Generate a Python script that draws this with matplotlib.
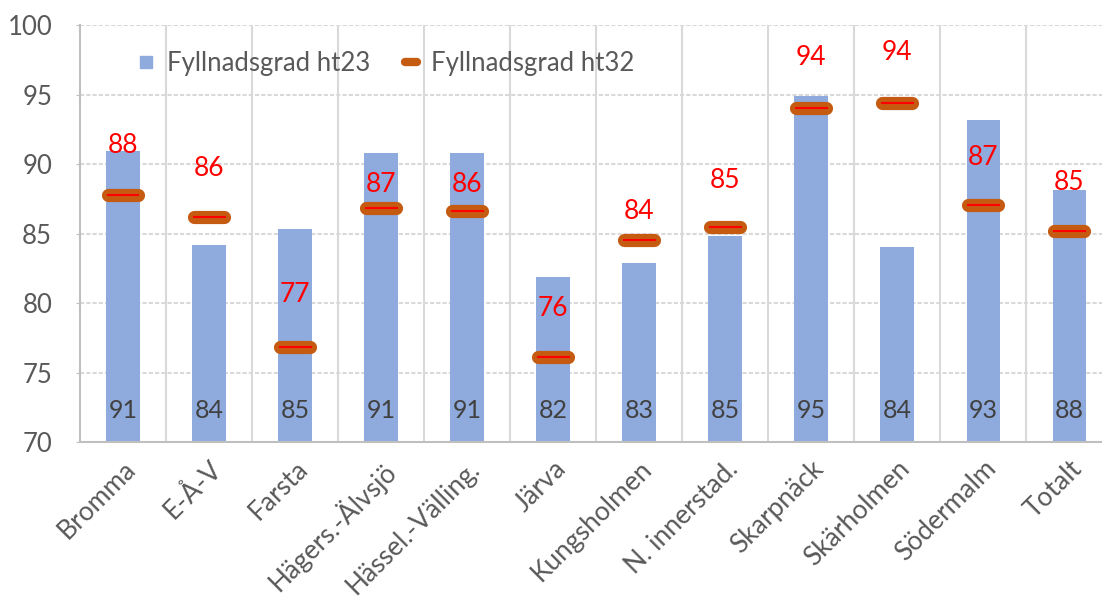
import matplotlib.pyplot as plt
from matplotlib.lines import Line2D
from matplotlib.markers import MarkerStyle

# data
areas = ['Bromma', 'E-Å-V', 'Farsta', 'Hägers.-Älvsjö', 'Hässel.-Välling.', 'Järva',
         'Kungsholmen', 'N. innerstad.', 'Skarpnäck', 'Skärholmen', 'Södermalm', 'Totalt']
ht23 = [90.9, 84.2, 85.3, 90.8, 90.8, 81.9, 82.9, 84.8, 94.9, 84.0, 93.2, 88.1]
ht23_labels = [91, 84, 85, 91, 91, 82, 83, 85, 95, 84, 93, 88]
ht32 = [87.8, 86.2, 76.8, 86.8, 86.6, 76.1, 84.5, 85.5, 94.0, 94.4, 87.05, 85.2]
ht32_labels = [88, 86, 77, 87, 86, 76, 84, 85, 94, 94, 87, 85]
# label offsets above the marker (points), placed by hand in the original
label_offsets = [35, 35, 38, 17, 19, 35, 21, 33, 37, 36, 34, 35]

bar_color = '#8FAADC'
marker_color = '#C55A11'
text_gray = '#595959'
grid_gray = '#D9D9D9'

plt.rcParams['font.family'] = ['Lato', 'DejaVu Sans']

fig = plt.figure(figsize=(11.02, 6.01), dpi=100)
ax = fig.add_axes([80 / 1102, 1 - 442 / 601, 1 - 80 / 1102, (442 - 25) / 601])

x = list(range(len(areas)))
ax.bar(x, [v - 70 for v in ht23], bottom=70, width=0.39, color=bar_color, zorder=2)

for i in x:
  ax.plot([i - 0.175, i + 0.175], [ht32[i]] * 2, color=marker_color, lw=9.5,
          solid_capstyle='round', zorder=3)
  ax.plot([i - 0.18, i + 0.18], [ht32[i]] * 2, color='#FF0000', lw=1.5, zorder=4)
  ax.annotate(str(ht32_labels[i]), (i, ht32[i]), xytext=(0, label_offsets[i]),
              textcoords='offset points', ha='center', va='center',
              color='#FF0000', fontsize=19, zorder=5)
  ax.text(i, 72.3, str(ht23_labels[i]), ha='center', va='center',
          color='#404040', fontsize=18, zorder=5)

ax.set_xlim(-0.5, 11.38)
ax.set_ylim(70, 100)
ax.set_yticks(range(70, 101, 5))
ax.set_xticks(x)
ax.set_xticklabels(areas, rotation=45, ha='right', rotation_mode='anchor',
                   fontsize=19, color=text_gray)
ax.tick_params(axis='x', length=0, pad=10)
ax.tick_params(axis='y', length=3, color='#BFBFBF', labelsize=18.5,
               labelcolor=text_gray, pad=17)

# grid: dashed horizontal, solid vertical between categories
for y in range(75, 101, 5):
  ax.axhline(y, color=grid_gray, lw=1.5, ls=(0, (2, 1)), zorder=1)
for k in range(len(areas)):
  ax.axvline(k + 0.5, color=grid_gray, lw=1.5, zorder=1)

for side in ['top', 'right']:
  ax.spines[side].set_visible(False)
for side in ['left', 'bottom']:
  ax.spines[side].set_color('#BFBFBF')
  ax.spines[side].set_linewidth(1.5)

handles = [Line2D([], [], ls='none', marker='s', markersize=8, color=bar_color),
           Line2D([], [], ls='none', marker=MarkerStyle('_', capstyle='round'),
                  markersize=8, markeredgewidth=6, color=marker_color)]
leg = fig.legend(handles, ['Fyllnadsgrad ht23', 'Fyllnadsgrad ht32'], ncol=2,
                 loc='center left', bbox_to_anchor=(110 / 1102, 1 - 63 / 601),
                 frameon=False, fontsize=18.5, handlelength=1.0,
                 columnspacing=1.1, handletextpad=0.3)
for t in leg.get_texts():
  t.set_color(text_gray)

fig.savefig('out.png', dpi=100)
